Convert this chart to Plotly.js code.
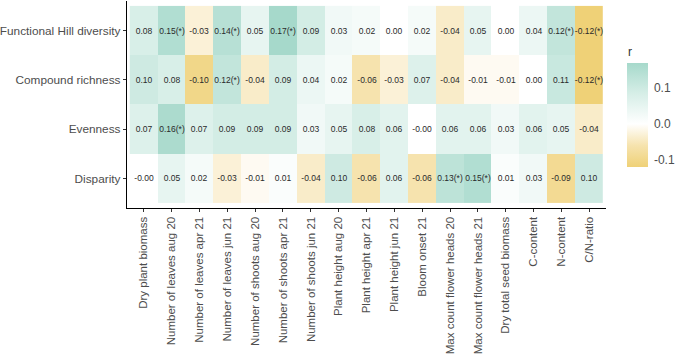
<!DOCTYPE html>
<html>
<head>
<meta charset="utf-8">
<script src="https://cdn.plot.ly/plotly-3.0.1.min.js"></script>
<style>html,body{margin:0;padding:0;background:#fff;}#chart{width:676px;height:360px;}</style>
</head>
<body>
<div id="chart"></div>
<script>
const traits = ["Dry plant biomass","Number of leaves aug 20","Number of leaves apr 21","Number of leaves jun 21","Number of shoots aug 20","Number of shoots apr 21","Number of shoots jun 21","Plant height aug 20","Plant height apr 21","Plant height jun 21","Bloom onset 21","Max count flower heads 20","Max count flower heads 21","Dry total seed biomass","C-content","N-content","C/N-ratio"];
const metrics = ["Functional Hill diversity","Compound richness","Evenness","Disparity"];

const functionalHill = [0.08,0.15,-0.03,0.14,0.05,0.17,0.09,0.03,0.02,0.00,0.02,-0.04,0.05,0.00,0.04,0.12,-0.12];
const compoundRichness = [0.10,0.08,-0.10,0.12,-0.04,0.09,0.04,0.02,-0.06,-0.03,0.07,-0.04,-0.01,-0.01,0.00,0.11,-0.12];
const evenness = [0.07,0.16,0.07,0.09,0.09,0.09,0.03,0.05,0.08,0.06,-0.00,0.06,0.06,0.03,0.06,0.05,-0.04];
const disparity = [-0.00,0.05,0.02,-0.03,-0.01,0.01,-0.04,0.10,-0.06,0.06,-0.06,0.13,0.15,0.01,0.03,-0.09,0.10];

const functionalHillSig = [0,1,0,1,0,1,0,0,0,0,0,0,0,0,0,1,1];
const compoundRichnessSig = [0,0,0,1,0,0,0,0,0,0,0,0,0,0,0,0,1];
const evennessSig = [0,1,0,0,0,0,0,0,0,0,0,0,0,0,0,0,0];
const disparitySig = [0,0,0,0,0,0,0,0,0,0,0,1,1,0,0,0,0];

const zRows = [functionalHill, compoundRichness, evenness, disparity];
const sigRows = [functionalHillSig, compoundRichnessSig, evennessSig, disparitySig];

const textRows = zRows.map((row, i) => row.map((v, j) => {
  let t = (Object.is(v, -0)) ? "-0.00" : v.toFixed(2);
  return t + (sigRows[i][j] ? "(*)" : "");
}));

const zmin = -0.12, zmax = 0.17;
const mid = (0 - zmin) / (zmax - zmin);
const colorscale = [
  [0, "#EFD177"],
  [mid * 0.5, "#F6E3AE"],
  [mid, "#FFFFFF"],
  [mid + (1 - mid) * 0.5, "#D6EEE7"],
  [1, "#A6D9CB"]
];

const L = 127, R = 608, T = 1, B = 208;
const FONT = "Liberation Sans, Arial, sans-serif";
const data = [{
  type: "heatmap",
  x: traits,
  y: metrics,
  z: zRows,
  text: textRows,
  texttemplate: "%{text}",
  textfont: {family: FONT, size: 8.5, color: "#2a2a2a"},
  zmin: zmin, zmax: zmax,
  colorscale: colorscale,
  xgap: 0, ygap: 0,
  hoverinfo: "skip",
  colorbar: {
    thickness: 21,
    thicknessmode: "pixels",
    len: 103.6,
    lenmode: "pixels",
    x: (629 - L) / (R - L),
    xanchor: "left",
    xpad: 0,
    y: (B - 114.8) / (B - T),
    yanchor: "middle",
    ypad: 0,
    outlinewidth: 0,
    tickvals: [-0.1, 0, 0.1],
    ticktext: ["-0.1", "0.0", "0.1"],
    ticks: "outside",
    ticklen: 4,
    tickcolor: "#ffffff",
    tickfont: {family: FONT, size: 12, color: "#4d4d4d"}
  }
}];

const layout = {
  width: 676, height: 360,
  margin: {l: L, r: 676 - R, t: T, b: 360 - B, pad: 0},
  paper_bgcolor: "#ffffff",
  plot_bgcolor: "#ffffff",
  font: {family: FONT},
  xaxis: {
    type: "category",
    categoryorder: "array",
    categoryarray: traits,
    range: [-0.6, traits.length - 0.4],
    tickangle: -90,
    ticks: "outside", ticklen: 3, tickcolor: "#333", tickwidth: 1,
    tickfont: {size: 11.5, color: "#4d4d4d"},
    showline: true, linecolor: "#000", linewidth: 1.2,
    showgrid: false, zeroline: false, fixedrange: true
  },
  yaxis: {
    type: "category",
    categoryorder: "array",
    categoryarray: metrics.slice().reverse(),
    range: [-0.6, metrics.length - 0.4],
    ticks: "outside", ticklen: 3, tickcolor: "#333", tickwidth: 1,
    tickfont: {size: 11.8, color: "#4d4d4d"},
    showline: true, linecolor: "#000", linewidth: 1.2,
    showgrid: false, zeroline: false, fixedrange: true
  },
  annotations: [{
    text: "r",
    xref: "paper", yref: "paper",
    x: (628 - L) / (R - L), y: (B - 52) / (B - T),
    xanchor: "left", yanchor: "middle",
    showarrow: false,
    font: {family: FONT, size: 12, color: "#333333"}
  }]
};

Plotly.newPlot("chart", data, layout, {displayModeBar: false, staticPlot: true});
</script>
</body>
</html>
